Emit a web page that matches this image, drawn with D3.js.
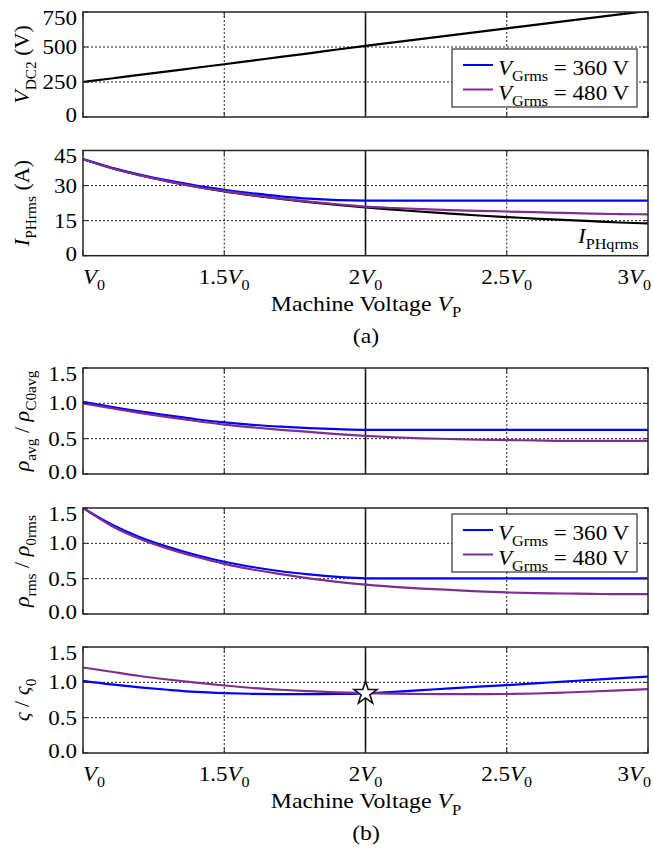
<!DOCTYPE html>
<html>
<head>
<meta charset="utf-8">
<script src="https://cdn.jsdelivr.net/npm/d3@7/dist/d3.min.js"></script>
<style>
  body { margin: 0; background: #fff; }
  svg text { font-family: "Liberation Serif"; }
</style>
</head>
<body>
<script>
// machine voltage in multiples of V0
var vp = [1.0, 1.1, 1.2, 1.3, 1.4, 1.5, 1.6, 1.7, 1.8, 1.9, 2.0,
          2.1, 2.2, 2.3, 2.4, 2.5, 2.6, 2.7, 2.8, 2.9, 3.0]

var vdc2 = [250, 275, 301, 326, 352, 377, 403, 429, 455, 482, 508,
            533, 558, 583, 608, 633, 658, 683, 708, 733, 758]

var iphBlue   = [41.3, 37.7, 34.7, 32.2, 30.0, 28.2, 26.7, 25.4, 24.4, 23.8, 23.6,
                 23.6, 23.6, 23.6, 23.6, 23.6, 23.6, 23.6, 23.6, 23.6, 23.6]
var iphPurple = [41.3, 37.5, 34.4, 31.8, 29.5, 27.6, 25.9, 24.4, 23.1, 22.0, 21.0,
                 20.4, 19.9, 19.5, 19.2, 18.9, 18.6, 18.3, 18.0, 17.8, 17.7]
var iphQ      = [41.3, 37.5, 34.4, 31.8, 29.5, 27.5, 25.8, 24.3, 22.9, 21.7, 20.65,
                 19.7, 18.8, 18.0, 17.2, 16.5, 15.9, 15.3, 14.75, 14.2, 13.8]

var rhoAvgBlue   = [1.02, 0.95, 0.885, 0.83, 0.775, 0.73, 0.695, 0.67, 0.65, 0.635, 0.625,
                    0.625, 0.625, 0.625, 0.625, 0.625, 0.625, 0.625, 0.625, 0.625, 0.625]
var rhoAvgPurple = [1.00, 0.93, 0.865, 0.805, 0.75, 0.70, 0.66, 0.625, 0.595, 0.565, 0.54,
                    0.52, 0.505, 0.495, 0.485, 0.48, 0.475, 0.47, 0.47, 0.47, 0.47]

var rhoRmsBlue   = [1.50, 1.27, 1.09, 0.95, 0.835, 0.74, 0.665, 0.605, 0.56, 0.525, 0.505,
                    0.505, 0.505, 0.505, 0.505, 0.505, 0.505, 0.505, 0.505, 0.505, 0.505]
var rhoRmsPurple = [1.50, 1.25, 1.065, 0.925, 0.81, 0.71, 0.63, 0.565, 0.505, 0.455, 0.415,
                    0.385, 0.36, 0.34, 0.32, 0.305, 0.295, 0.29, 0.285, 0.28, 0.28]

var sigBlue   = [1.02, 0.97, 0.93, 0.895, 0.865, 0.848, 0.838, 0.833, 0.832, 0.835, 0.845,
                 0.865, 0.89, 0.915, 0.94, 0.96, 0.985, 1.01, 1.035, 1.06, 1.08]
var sigPurple = [1.21, 1.15, 1.09, 1.04, 0.995, 0.955, 0.92, 0.895, 0.875, 0.858, 0.848,
                 0.84, 0.835, 0.832, 0.832, 0.835, 0.842, 0.855, 0.87, 0.887, 0.905]

var xTicks = [1, 1.5, 2, 2.5, 3]
var xTickLabels = ["", "1.5", "2", "2.5", "3"]
var legendLabels = ["360", "480"]
var starPoint = [2, 0.845]

var blue = "#0000ff", purple = "#7e2f8e"

var W = 653, H = 850
var svg = d3.select("body").append("svg").attr("width", W).attr("height", H)

var x = d3.scaleLinear().domain([1, 3]).range([83, 648])

// text with italic / subscript parts
function rich(sel, px, py, parts, o) {
  var size = o.size || 20, sx = o.sx || 1
  var tr = "translate(" + px + "," + py + ")"
  if (o.rot) tr += " rotate(" + o.rot + ")"
  tr += " scale(" + sx + ",1)"
  var t = sel.append("text").attr("transform", tr)
      .attr("text-anchor", o.anchor || "start")
      .attr("fill", "#000")
      .style("font-size", size + "px")
  var shift = 0
  parts.forEach(function(p) {
    var ts = t.append("tspan").text(p.t)
    var target = p.sub ? size * 0.3 : 0
    if (target != shift) ts.attr("dy", target - shift)
    shift = target
    if (p.sub) ts.style("font-size", (size * 0.7) + "px")
    if (p.i) ts.style("font-style", "italic")
  })
  return t
}

var panels = [
  {top: 12, bottom: 117, domain: [0, 750], ticks: [0, 250, 500, 750], fmt: d3.format("d"),
   lines: [{v: vdc2, c: "#000"}],
   title: [{t: "V", i: true}, {t: "DC2", sub: true}, {t: " (V)"}], legend: 49},
  {top: 150.5, bottom: 255.7, domain: [0, 45], ticks: [0, 15, 30, 45], fmt: d3.format("d"),
   lines: [{v: iphQ, c: "#000"}, {v: iphBlue, c: blue}, {v: iphPurple, c: purple}],
   title: [{t: "I", i: true}, {t: "PHrms", sub: true}, {t: " (A)"}], axis: true},
  {top: 368, bottom: 474, domain: [0, 1.5], ticks: [0, 0.5, 1, 1.5], fmt: d3.format(".1f"),
   lines: [{v: rhoAvgBlue, c: blue}, {v: rhoAvgPurple, c: purple}],
   title: [{t: "ρ", i: true}, {t: "avg", sub: true}, {t: " / "}, {t: "ρ", i: true}, {t: "C0avg", sub: true}]},
  {top: 508, bottom: 614, domain: [0, 1.5], ticks: [0, 0.5, 1, 1.5], fmt: d3.format(".1f"),
   lines: [{v: rhoRmsBlue, c: blue}, {v: rhoRmsPurple, c: purple}],
   title: [{t: "ρ", i: true}, {t: "rms", sub: true}, {t: " / "}, {t: "ρ", i: true}, {t: "0rms", sub: true}], legend: 514},
  {top: 647, bottom: 753, domain: [0, 1.5], ticks: [0, 0.5, 1, 1.5], fmt: d3.format(".1f"),
   lines: [{v: sigBlue, c: blue}, {v: sigPurple, c: purple}],
   title: [{t: "ς", i: true}, {t: " / "}, {t: "ς", i: true}, {t: "0", sub: true}], axis: true, star: true}
]

panels.forEach(function(p, k) {
  var y = d3.scaleLinear().domain(p.domain).range([p.bottom, p.top])
  var g = svg.append("g")
  var x0 = x.range()[0], x1 = x.range()[1]

  g.append("clipPath").attr("id", "clip" + k).append("rect")
    .attr("x", x0).attr("y", p.top).attr("width", x1 - x0).attr("height", p.bottom - p.top)

  // grid
  g.selectAll(".hg").data(p.ticks.slice(1, -1)).enter().append("line")
    .attr("x1", x0).attr("x2", x1).attr("y1", d => y(d)).attr("y2", d => y(d))
    .attr("stroke", "#222").attr("stroke-width", 1).attr("stroke-dasharray", "2,2")
  g.selectAll(".vg").data([1.5, 2.5]).enter().append("line")
    .attr("x1", d => x(d)).attr("x2", d => x(d)).attr("y1", p.top).attr("y2", p.bottom)
    .attr("stroke", "#222").attr("stroke-width", 1).attr("stroke-dasharray", "2,2")
  g.append("line").attr("x1", x(2)).attr("x2", x(2)).attr("y1", p.top).attr("y2", p.bottom)
    .attr("stroke", "#111").attr("stroke-width", 1.6)

  // curves
  var line = d3.line().x((d, i) => x(vp[i])).y(d => y(d)).curve(d3.curveMonotoneX)
  g.append("g").attr("clip-path", "url(#clip" + k + ")")
    .selectAll("path").data(p.lines).enter().append("path")
    .attr("d", d => line(d.v)).attr("fill", "none")
    .attr("stroke", d => d.c).attr("stroke-width", 2.2)

  // frame and inward ticks
  g.append("rect").attr("x", x0).attr("y", p.top).attr("width", x1 - x0).attr("height", p.bottom - p.top)
    .attr("fill", "none").attr("stroke", "#262626").attr("stroke-width", 1.5)
  p.ticks.forEach(function(t) {
    g.append("line").attr("x1", x0).attr("x2", x0 + 5).attr("y1", y(t)).attr("y2", y(t)).attr("stroke", "#262626")
    g.append("line").attr("x1", x1).attr("x2", x1 - 5).attr("y1", y(t)).attr("y2", y(t)).attr("stroke", "#262626")
  })
  xTicks.forEach(function(t) {
    g.append("line").attr("x1", x(t)).attr("x2", x(t)).attr("y1", p.bottom).attr("y2", p.bottom - 5).attr("stroke", "#262626")
    g.append("line").attr("x1", x(t)).attr("x2", x(t)).attr("y1", p.top).attr("y2", p.top + 5).attr("stroke", "#262626")
  })

  // y tick labels
  p.ticks.forEach(function(t, i) {
    var off = i == 0 ? 5 : (i == p.ticks.length - 1 ? 12.5 : 7)
    rich(g, 77, y(t) + off, [{t: p.fmt(t)}], {size: 20, sx: 1.15, anchor: "end"})
  })

  // y title
  rich(g, 29, (p.top + p.bottom) / 2, p.title, {size: 22, rot: -90, anchor: "middle"})

  if (p.axis) {
    xTicks.forEach(function(t, i) {
      var anchor = i == 0 ? "start" : (i == xTicks.length - 1 ? "end" : "middle")
      var px = i == 0 ? x0 : (i == xTicks.length - 1 ? x1 + 3 : x(t))
      rich(g, px, p.bottom + 28, [{t: xTickLabels[i]}, {t: "V", i: true}, {t: "0", sub: true}],
           {size: 20, sx: 1.15, anchor: anchor})
    })
    rich(g, 366, p.bottom + 55, [{t: "Machine Voltage "}, {t: "V", i: true}, {t: "P", sub: true}],
         {size: 22, sx: 1.08, anchor: "middle"})
    rich(g, 366, p.bottom + 87, [{t: k == 1 ? "(a)" : "(b)"}], {size: 22, sx: 1.08, anchor: "middle"})
  }

  if (k == 1) {
    rich(g, 578, 243, [{t: "I", i: true}, {t: "PHqrms", sub: true}], {size: 21, sx: 1.1})
  }

  if (p.legend) {
    var ly = p.legend
    g.append("rect").attr("x", 452).attr("y", ly).attr("width", 185).attr("height", 58)
      .attr("fill", "#fff").attr("stroke", "#333").attr("stroke-width", 1.2)
    ;[blue, purple].forEach(function(c, i) {
      var yy = ly + 16 + i * 24.5
      g.append("line").attr("x1", 463).attr("x2", 493).attr("y1", yy).attr("y2", yy)
        .attr("stroke", c).attr("stroke-width", 2)
      rich(g, 498, yy + 10, [{t: "V", i: true}, {t: "Grms", sub: true}, {t: " = " + legendLabels[i] + " V"}],
           {size: 21, sx: 1.1})
    })
  }

  if (p.star) {
    g.append("path").attr("d", d3.symbol().type(d3.symbolStar).size(165)())
      .attr("transform", "translate(" + x(starPoint[0]) + "," + y(starPoint[1]) + ")")
      .attr("fill", "#fff").attr("stroke", "#111").attr("stroke-width", 1.6)
  }
})
</script>
</body>
</html>
